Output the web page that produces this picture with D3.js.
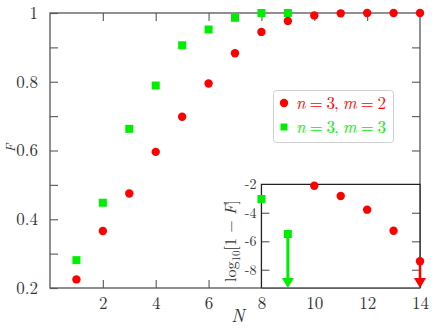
<!DOCTYPE html>
<html><head><meta charset="utf-8">
<script src="https://cdn.jsdelivr.net/npm/d3@7"></script>
<style>body{margin:0;background:#fff}svg{display:block}</style>
</head><body>
<script>
// ---- data ----
const N = [1,2,3,4,5,6,7,8,9,10,11,12,13,14];
const F_m2 = [0.225,0.366,0.475,0.596,0.698,0.795,0.883,0.945,0.977,0.993,0.999,1.0,1.0,1.0];
const N_m3 = [1,2,3,4,5,6,7,8,9];
const F_m3 = [0.281,0.448,0.663,0.789,0.906,0.952,0.986,1.0,1.0];
// inset: log10(1-F)
const insetN_m3 = [8,9];
const insetL_m3 = [-3.03,-5.49];
const insetArrow_m3 = [false,true];
const insetN_m2 = [10,11,12,13,14];
const insetL_m2 = [-2.1,-2.82,-3.78,-5.26,-7.4];
const insetArrow_m2 = [false,false,false,false,true];
const xTicks = [2,4,6,8,10,12,14];
const yTicks = [0.2,0.3,0.4,0.5,0.6,0.7,0.8,0.9,1.0];
const yLabels = {"0.2":"0.2","0.4":"0.4","0.6":"0.6","0.8":"0.8","1":"1"};
const insetYTicks = [-2,-4,-6,-8];
const legendLabels = [["n","3","m","2"],["n","3","m","3"]];

const FONT = "'Latin Modern Roman', 'Liberation Serif', serif";
const RED = "#ff0000", GREEN = "#00ee00";
const W = 436, H = 333;
const svg = d3.select("body").append("svg").attr("width",W).attr("height",H)
  .style("font-family",FONT);

const x = d3.scaleLinear().domain([0,14]).range([50,420]);
const y = d3.scaleLinear().domain([0.2,1]).range([288,13]);

const axisCol = "#555", tickCol = "#666";
function styleAxis(g, fs){
  g.attr("font-family",null).attr("font-size",null);
  g.select(".domain").remove();
  g.selectAll(".tick line").attr("stroke",tickCol).attr("stroke-width",1.2);
  g.selectAll(".tick text").attr("fill","#333").style("font-size",fs+"px").style("font-family",FONT);
}
// main axes
svg.append("g").attr("transform",`translate(0,${y(0.2)})`)
  .call(d3.axisBottom(x).tickValues(xTicks).tickSize(-8).tickPadding(9).tickFormat(d3.format("d")))
  .call(g=>styleAxis(g,17));
svg.append("g").attr("transform",`translate(0,${y(1)})`)
  .call(d3.axisTop(x).tickValues(xTicks.slice(0,-1)).tickSize(-8).tickFormat(""))
  .call(g=>styleAxis(g,17));
svg.append("g").attr("transform",`translate(${x(0)},0)`)
  .call(d3.axisLeft(y).tickValues(yTicks).tickSize(-8).tickPadding(12)
    .tickFormat(d=>yLabels[String(+d.toFixed(1))]||""))
  .call(g=>styleAxis(g,17));
svg.append("g").attr("transform",`translate(${x(14)},0)`)
  .call(d3.axisRight(y).tickValues(yTicks.slice(1,-1)).tickSize(-8).tickFormat(""))
  .call(g=>styleAxis(g,17));
// frame
svg.append("rect").attr("x",x(0)).attr("y",y(1)).attr("width",x(14)-x(0)).attr("height",y(0.2)-y(1))
  .attr("fill","none").attr("stroke",axisCol).attr("stroke-width",1.3);

// main markers
svg.append("g").selectAll("rect").data(N_m3).join("rect")
  .attr("x",(d)=>x(d)-4).attr("y",(d,i)=>y(F_m3[i])-4).attr("width",8).attr("height",8).attr("fill",GREEN);
svg.append("g").selectAll("circle").data(N).join("circle")
  .attr("cx",d=>x(d)).attr("cy",(d,i)=>y(F_m2[i])).attr("r",4.2).attr("fill",RED);

// axis labels
svg.append("text").attr("transform",`translate(15,148) rotate(-90)`).attr("text-anchor","middle")
  .style("font-style","italic").style("font-size","13px").attr("fill","#333").text("F");
svg.append("text").attr("x",238).attr("y",322).attr("text-anchor","middle")
  .style("font-style","italic").style("font-size","18px").attr("fill","#333").text("N");

// legend
const lg = svg.append("g");
lg.append("rect").attr("x",273.5).attr("y",90.5).attr("width",120).attr("height",52).attr("rx",3)
  .attr("fill","#fff").attr("stroke","#d0d0d0");
lg.append("circle").attr("cx",284).attr("cy",103).attr("r",4.2).attr("fill",RED);
lg.append("rect").attr("x",280.5).attr("y",123.5).attr("width",7).attr("height",7).attr("fill",GREEN);
legendLabels.forEach((L,i)=>{
  const t = lg.append("text").attr("x",296).attr("y",109+i*24).attr("fill",i===0?RED:GREEN)
    .style("font-size","17px").attr("textLength",90).attr("lengthAdjust","spacing");
  t.append("tspan").style("font-style","italic").text(L[0]);
  t.append("tspan").text(" = "+L[1]+", ");
  t.append("tspan").style("font-style","italic").text(L[2]);
  t.append("tspan").text(" = "+L[3]);
});

// inset
const iy = d3.scaleLinear().domain([-9.28,-2]).range([288,184.3]);
const x0 = x(8), x1 = x(14);
svg.append("rect").attr("x",x0).attr("y",iy(-2)).attr("width",x1-x0).attr("height",288-iy(-2))
  .attr("fill","#fff");
svg.append("g").attr("transform",`translate(${x0},0)`)
  .call(d3.axisLeft(iy).tickValues(insetYTicks).tickSize(-8).tickPadding(5).tickFormat(d=>"-"+Math.abs(d)))
  .call(g=>styleAxis(g,14))
  .call(g=>g.selectAll(".tick").filter(d=>d===-2).select("line").remove());
svg.append("g").attr("transform",`translate(${x1},0)`)
  .call(d3.axisRight(iy).tickValues(insetYTicks.slice(1)).tickSize(-8).tickFormat(""))
  .call(g=>styleAxis(g,14));
svg.append("path").attr("d",`M${x0},288V${iy(-2)}H${x1}V288`).attr("fill","none").attr("stroke","#222").attr("stroke-width",1.3);
svg.append("line").attr("x1",x0).attr("x2",x1).attr("y1",288).attr("y2",288).attr("stroke",axisCol).attr("stroke-width",1.3);

// inset label
const il = svg.append("text").attr("transform",`translate(236,241) rotate(-90)`).attr("text-anchor","middle")
  .style("font-size","16px").attr("fill","#333");
il.append("tspan").text("log");
il.append("tspan").attr("dy",4).style("font-size","11px").text("10");
il.append("tspan").attr("dy",-4).text("[1 \u2212 ");
il.append("tspan").style("font-style","italic").text("F");
il.append("tspan").text("]");

// arrows
function arrow(xp, yTop, col, lw){
  svg.append("line").attr("x1",xp).attr("x2",xp).attr("y1",yTop).attr("y2",280).attr("stroke",col).attr("stroke-width",lw);
  svg.append("path").attr("d",`M${xp-6},278L${xp+6},278L${xp},288Z`).attr("fill",col);
}
insetN_m3.forEach((n,i)=>{ if(insetArrow_m3[i]) arrow(x(n), iy(insetL_m3[i]), GREEN, 3); });
insetN_m2.forEach((n,i)=>{ if(insetArrow_m2[i]) arrow(x(n), iy(insetL_m2[i]), RED, 2.5); });
svg.append("g").selectAll("rect").data(insetN_m3).join("rect")
  .attr("x",d=>x(d)-4).attr("y",(d,i)=>iy(insetL_m3[i])-4).attr("width",8).attr("height",8).attr("fill",GREEN);
svg.append("g").selectAll("circle").data(insetN_m2).join("circle")
  .attr("cx",d=>x(d)).attr("cy",(d,i)=>iy(insetL_m2[i])).attr("r",4.2).attr("fill",RED);
</script>
</body></html>
